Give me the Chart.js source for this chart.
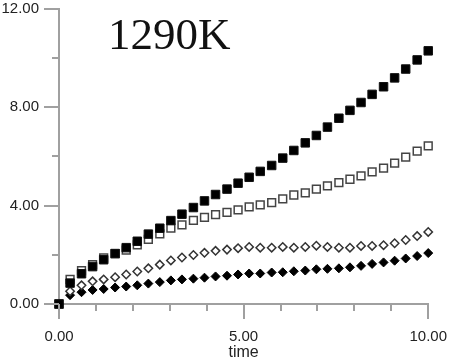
<!DOCTYPE html>
<html>
<head>
<meta charset="utf-8">
<script src="https://cdn.jsdelivr.net/npm/chart.js@4/dist/chart.umd.min.js"></script>
<style>
  body { margin: 0; background: #fff; }
  #wrap { width: 456px; height: 362px; }
</style>
</head>
<body>
<div id="wrap"><canvas id="scatter" width="456" height="362"></canvas></div>
<script>
const times = [0, 0.30, 0.61, 0.91, 1.21, 1.52, 1.82, 2.12, 2.42, 2.73, 3.03, 3.33, 3.64, 3.94, 4.24, 4.55, 4.85,
  5.15, 5.45, 5.76, 6.06, 6.36, 6.67, 6.97, 7.27, 7.58, 7.88, 8.18, 8.48, 8.79, 9.09, 9.39, 9.70, 10.00];

const filledSquares = [0, 0.85, 1.23, 1.52, 1.80, 2.05, 2.29, 2.55, 2.84, 3.08, 3.39, 3.65, 3.92, 4.19, 4.45, 4.67, 4.91,
  5.15, 5.39, 5.63, 5.93, 6.24, 6.55, 6.85, 7.19, 7.55, 7.87, 8.19, 8.52, 8.83, 9.19, 9.55, 9.92, 10.29];
const openSquares = [0, 1.00, 1.36, 1.60, 1.87, 2.05, 2.19, 2.40, 2.63, 2.85, 3.08, 3.22, 3.40, 3.52, 3.63, 3.72, 3.83,
  3.95, 4.03, 4.12, 4.27, 4.43, 4.52, 4.67, 4.80, 4.93, 5.07, 5.21, 5.37, 5.52, 5.73, 5.97, 6.21, 6.43];
const openDiamonds = [0, 0.52, 0.76, 0.92, 1.00, 1.09, 1.20, 1.32, 1.45, 1.60, 1.77, 1.89, 1.99, 2.08, 2.16, 2.21, 2.27,
  2.32, 2.29, 2.29, 2.32, 2.29, 2.32, 2.37, 2.32, 2.29, 2.29, 2.36, 2.36, 2.39, 2.47, 2.60, 2.76, 2.93];
const filledDiamonds = [0, 0.36, 0.48, 0.57, 0.61, 0.67, 0.71, 0.76, 0.83, 0.89, 0.96, 1.00, 1.03, 1.07, 1.12, 1.15, 1.20,
  1.24, 1.24, 1.28, 1.29, 1.33, 1.36, 1.41, 1.43, 1.45, 1.49, 1.55, 1.63, 1.69, 1.76, 1.85, 1.95, 2.07];

const xMajorTicks = [0, 5, 10];
const yMajorTicks = [0, 4, 8, 12];
const chartLabel = '1290K';

const axisGray = '#a0a0a0';
const textColor = '#222';

const toPoints = values => values.map((v, i) => ({ x: times[i], y: v }));

// draw all tick marks here: long for major, short for minor
const tickMarks = {
  id: 'tickMarks',
  afterDraw(chart) {
    const ctx = chart.ctx;
    const xs = chart.scales.x, ys = chart.scales.y;
    const area = chart.chartArea;
    ctx.save();
    ctx.strokeStyle = axisGray;
    ctx.lineWidth = 2;
    ctx.beginPath();
    xs.ticks.forEach(t => {
      const len = xMajorTicks.includes(t.value) ? 15 : 7;
      const px = Math.round(xs.getPixelForValue(t.value));
      ctx.moveTo(px, area.bottom);
      ctx.lineTo(px, area.bottom + len);
    });
    ys.ticks.forEach(t => {
      const len = yMajorTicks.includes(t.value) ? 15 : 7;
      const py = Math.round(ys.getPixelForValue(t.value));
      ctx.moveTo(area.left, py);
      ctx.lineTo(area.left - len, py);
    });
    ctx.stroke();
    ctx.restore();
  }
};

const tempLabel = {
  id: 'tempLabel',
  afterDraw(chart) {
    const ctx = chart.ctx;
    ctx.save();
    ctx.fillStyle = '#111';
    ctx.font = '45px "Liberation Serif", "Times New Roman", serif';
    ctx.textBaseline = 'alphabetic';
    ctx.fillText(chartLabel, 108, 49);
    ctx.restore();
  }
};

new Chart(document.getElementById('scatter'), {
  type: 'scatter',
  data: {
    datasets: [
      {
        label: 'filled squares',
        data: toPoints(filledSquares),
        pointStyle: 'rect',
        pointRadius: 6,
        backgroundColor: '#000',
        borderColor: '#111',
        borderWidth: 1,
        clip: false
      },
      {
        label: 'open squares',
        data: toPoints(openSquares),
        pointStyle: 'rect',
        pointRadius: 5.5,
        backgroundColor: '#fff',
        borderColor: '#444',
        borderWidth: 1.5,
        clip: false
      },
      {
        label: 'open diamonds',
        data: toPoints(openDiamonds),
        pointStyle: 'rectRot',
        pointRadius: 4.2,
        backgroundColor: '#fff',
        borderColor: '#333',
        borderWidth: 1.5,
        clip: false
      },
      {
        label: 'filled diamonds',
        data: toPoints(filledDiamonds),
        pointStyle: 'rectRot',
        pointRadius: 4.5,
        backgroundColor: '#000',
        borderColor: '#000',
        borderWidth: 1,
        clip: false
      }
    ]
  },
  options: {
    responsive: false,
    animation: false,
    events: [],
    layout: { padding: { top: 4, right: 22, left: 0, bottom: 0 } },
    plugins: {
      legend: { display: false },
      tooltip: { enabled: false }
    },
    scales: {
      x: {
        type: 'linear',
        min: 0,
        max: 10,
        afterFit: s => { s.height = 58; },
        border: { color: axisGray, width: 2 },
        grid: { drawOnChartArea: false, tickLength: 15, tickColor: 'rgba(0,0,0,0)' },
        ticks: {
          stepSize: 1,
          autoSkip: false,
          maxRotation: 0,
          padding: 9,
          color: textColor,
          font: { family: '"Liberation Sans", Arial, sans-serif', size: 15 },
          callback: v => xMajorTicks.includes(v) ? v.toFixed(2) : ''
        },
        title: {
          display: true,
          text: 'time',
          color: textColor,
          padding: 0,
          font: { family: '"Liberation Sans", Arial, sans-serif', size: 16 }
        }
      },
      y: {
        min: 0,
        max: 12,
        afterFit: s => { s.width = 59; },
        border: { color: axisGray, width: 2 },
        grid: { drawOnChartArea: false, tickLength: 15, tickColor: 'rgba(0,0,0,0)' },
        ticks: {
          stepSize: 2,
          autoSkip: false,
          padding: 5,
          color: textColor,
          font: { family: '"Liberation Sans", Arial, sans-serif', size: 15, lineHeight: 0.5 },
          callback: v => yMajorTicks.includes(v) ? v.toFixed(2) : ''
        }
      }
    }
  },
  plugins: [tickMarks, tempLabel]
});
</script>
</body>
</html>
